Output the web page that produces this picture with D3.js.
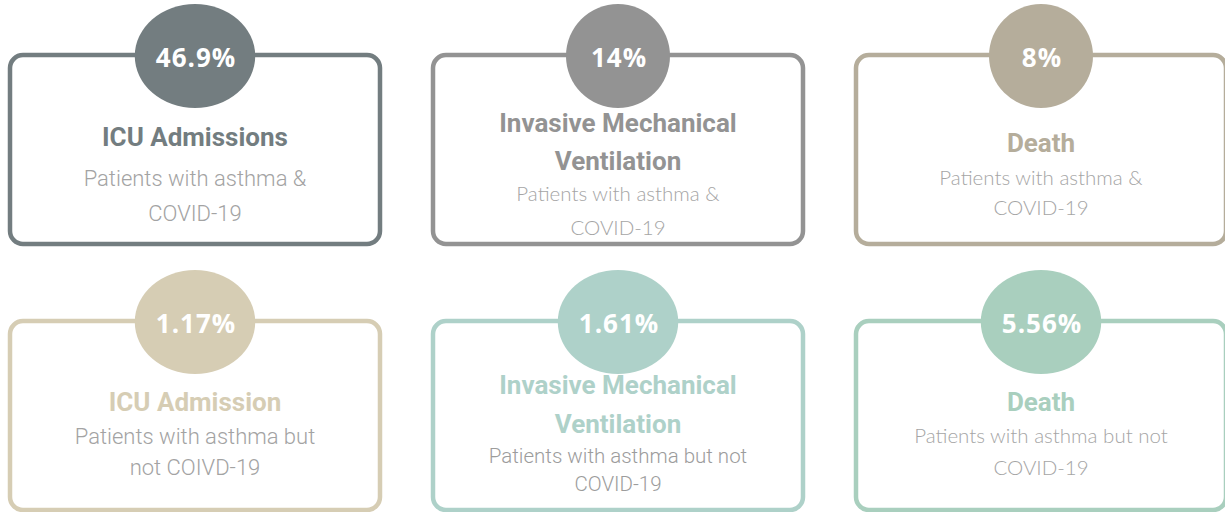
<!DOCTYPE html>
<html>
<head>
<meta charset="utf-8">
<script src="https://cdn.jsdelivr.net/npm/d3@7"></script>
<style>
  body { margin: 0; background: #fff; }
</style>
</head>
<body>
<script>
// asthma & covid outcomes, 2 rows x 3 cards

const values = [46.9, 14, 8, 1.17, 1.61, 5.56];
const valueLabels = ['46.9%', '14%', '8%', '1.17%', '1.61%', '5.56%'];
const titleLines = [
  ['ICU Admissions'],
  ['Invasive Mechanical', 'Ventilation'],
  ['Death'],
  ['ICU Admission'],
  ['Invasive Mechanical', 'Ventilation'],
  ['Death']
];
const subLines = [
  ['Patients with asthma &', 'COVID-19'],
  ['Patients with asthma &', 'COVID-19'],
  ['Patients with asthma &', 'COVID-19'],
  ['Patients with asthma but', 'not COIVD-19'],
  ['Patients with asthma but not', 'COVID-19'],
  ['Patients with asthma but not', 'COVID-19']
];

// styling
const colors = ['#737d80', '#939393', '#b5ad9b', '#d6cdb4', '#aed1c9', '#a9cfbe'];
const fonts = {
  robotoLight: { family: 'Roboto', weight: 300, size: 22, fill: '#a3a3a3' },
  roboto: { family: 'Roboto', weight: 300, size: 20.5, fill: '#9c9c9c' },
  light: { family: 'Lato', weight: 300, size: 20.5, fill: '#a5a5a5' }
};
// per card: subtitle font, gap title->subtitle, subtitle line height
const cardStyle = [
  { font: 'robotoLight', gap: 40, lh: 35 },
  { font: 'light', gap: 31, lh: 34 },
  { font: 'light', gap: 33, lh: 30 },
  { font: 'robotoLight', gap: 33, lh: 31 },
  { font: 'roboto', gap: 30, lh: 28.5 },
  { font: 'light', gap: 32, lh: 32 }
];
const titleLH = 38.5;

const W = 1225, H = 512;
const svg = d3.select('body').append('svg')
  .attr('width', W)
  .attr('height', H);

const col = d3.scaleBand().domain([0, 1, 2]).range([10, 1226]).paddingInner(0.1253);
const row = d3.scaleBand().domain([0, 1]).range([55, 510]).paddingInner(0.2895);

const cards = svg.selectAll('g.card')
  .data(values.map((v, i) => ({ i: i, v: v, c: i % 3, r: Math.floor(i / 3) })))
  .join('g')
  .attr('class', 'card')
  .attr('transform', d => `translate(${col(d.c)},${row(d.r)})`);

const bw = col.bandwidth(), bh = row.bandwidth();

cards.append('rect')
  .attr('width', bw)
  .attr('height', bh)
  .attr('rx', 13)
  .attr('fill', '#fff')
  .attr('stroke', d => colors[d.i])
  .attr('stroke-width', 4.5);

const bubble = cards.append('ellipse')
  .attr('cx', bw / 2)
  .attr('cy', 1)
  .attr('ry', 52)
  .attr('fill', d => colors[d.i]);

const pct = cards.append('text')
  .attr('x', bw / 2 + 1)
  .attr('y', 11.5)
  .attr('text-anchor', 'middle')
  .attr('font-family', 'Open Sans')
  .attr('font-weight', 700)
  .attr('font-size', 26)
  .attr('letter-spacing', 1)
  .attr('fill', '#fff')
  .text(d => valueLabels[d.i]);

// size bubble from its label
pct.each(function(d) { d.tw = this.getComputedTextLength(); });
bubble.attr('rx', d => Math.max(52, d.tw / 2 + 20));

cards.each(function(d) {
  const g = d3.select(this);
  const s = cardStyle[d.i];
  const f = fonts[s.font];
  const tl = titleLines[d.i], sl = subLines[d.i];
  const span = (tl.length - 1) * titleLH + s.gap + (sl.length - 1) * s.lh;
  const center = d.r === 0 ? 119.5 : 112.5;
  let y = center - span / 2 + 9;

  tl.forEach((t, k) => {
    g.append('text')
      .attr('x', bw / 2)
      .attr('y', y + k * titleLH)
      .attr('text-anchor', 'middle')
      .attr('font-family', 'Roboto')
      .attr('font-weight', 700)
      .attr('font-size', 26)
      .attr('fill', colors[d.i])
      .text(t);
  });
  y += (tl.length - 1) * titleLH + s.gap;

  sl.forEach((t, k) => {
    g.append('text')
      .attr('x', bw / 2)
      .attr('y', y + k * s.lh)
      .attr('text-anchor', 'middle')
      .attr('font-family', f.family)
      .attr('font-weight', f.weight)
      .attr('font-size', f.size)
      .attr('fill', f.fill)
      .text(t);
  });
});
</script>
</body>
</html>
